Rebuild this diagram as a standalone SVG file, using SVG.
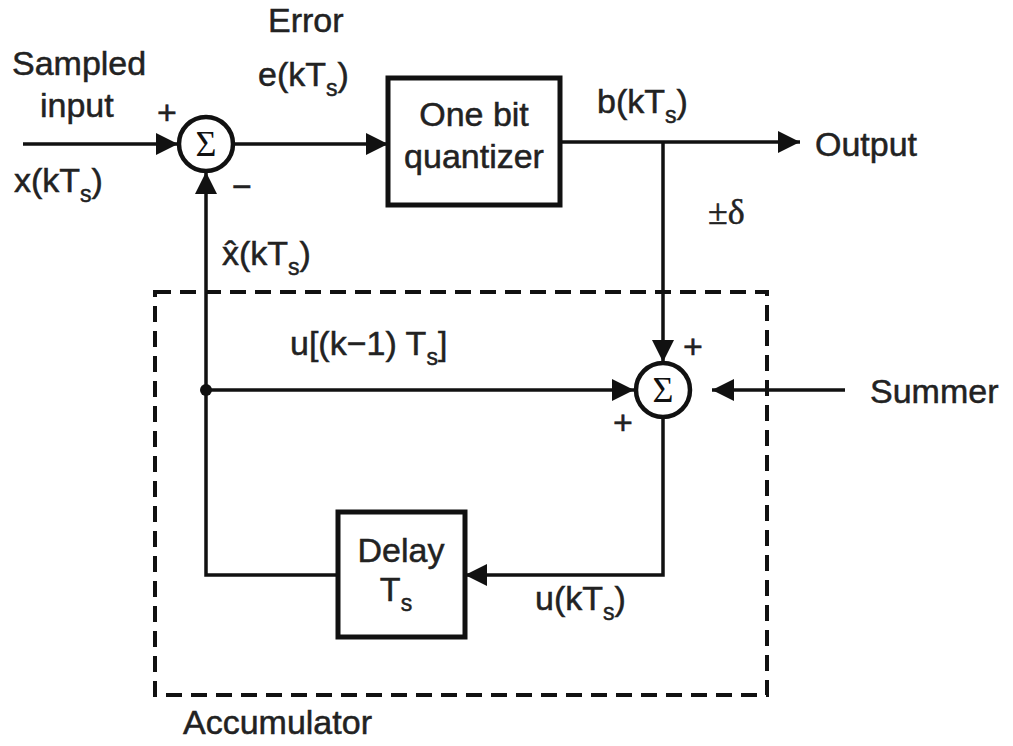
<svg xmlns="http://www.w3.org/2000/svg" width="1013" height="746" viewBox="0 0 1013 746">
<defs>
<marker id="ah" viewBox="0 0 10 10" refX="10" refY="5" markerWidth="32" markerHeight="22" markerUnits="userSpaceOnUse" orient="auto"><path d="M0,0 L10,5 L0,10 z" fill="#111"/></marker>
<style>
.ln{stroke:#111;stroke-width:3.5;fill:none}
.bx{stroke:#111;stroke-width:5;fill:#fff}
.sc{stroke:#111;stroke-width:4.5;fill:#fff}
.t{font-family:"Liberation Sans",Arial,sans-serif;font-size:34px;fill:#222;stroke:#222;stroke-width:0.5}
.sub{font-size:23px}
.sg{font-family:"Liberation Serif","Times New Roman",serif;font-size:36px;fill:#111}
.dash{stroke:#111;stroke-width:4;fill:none;stroke-dasharray:16,9}
</style>
</defs>
<rect width="1013" height="746" fill="#fff"/>
<rect class="dash" x="155" y="292" width="612" height="403"/>
<g id="connectors">
<line class="ln" x1="23" y1="144" x2="178" y2="144" marker-end="url(#ah)"/>
<line class="ln" x1="233" y1="144" x2="388" y2="144" marker-end="url(#ah)"/>
<line class="ln" x1="560" y1="142" x2="800" y2="142" marker-end="url(#ah)"/>
<line class="ln" x1="663" y1="142" x2="663" y2="362" marker-end="url(#ah)"/>
<line class="ln" x1="206" y1="390" x2="634" y2="390" marker-end="url(#ah)"/>
<line class="ln" x1="845" y1="390" x2="712" y2="390" marker-end="url(#ah)"/>
<polyline class="ln" points="663,418 663,575 465,575" marker-end="url(#ah)"/>
<polyline class="ln" points="338,575 206,575 206,172" marker-end="url(#ah)"/>
<circle cx="206" cy="390" r="6" fill="#111"/>
</g>
<g id="sum1"><circle class="sc" cx="206" cy="144" r="27"/><text class="sg" x="206" y="156" text-anchor="middle">Σ</text></g>
<g id="quantizer"><rect class="bx" x="388" y="78" width="172" height="127"/><text class="t" x="474" y="126" text-anchor="middle">One bit</text><text class="t" x="474" y="168" text-anchor="middle">quantizer</text></g>
<g id="sum2"><circle class="sc" cx="663" cy="390" r="27"/><text class="sg" x="663" y="402" text-anchor="middle">Σ</text></g>
<g id="delay"><rect class="bx" x="338" y="512" width="127" height="125"/><text class="t" x="401" y="562" text-anchor="middle">Delay</text><text class="t" x="396" y="601" text-anchor="middle">T<tspan class="sub" dy="10">s</tspan></text></g>
<g id="labels">
<text class="t" x="12" y="75">Sampled</text>
<text class="t" x="40" y="117">input</text>
<text class="t" x="157" y="124" font-size="28">+</text>
<text class="t" x="14" y="192">x(kT<tspan class="sub" dy="10">s</tspan><tspan dy="-10">)</tspan></text>
<text class="t" x="232" y="198">−</text>
<text class="t" x="222" y="265">x̂(kT<tspan class="sub" dy="10">s</tspan><tspan dy="-10">)</tspan></text>
<text class="t" x="268" y="32">Error</text>
<text class="t" x="258" y="86">e(kT<tspan class="sub" dy="10">s</tspan><tspan dy="-10">)</tspan></text>
<text class="t" x="597" y="113">b(kT<tspan class="sub" dy="10">s</tspan><tspan dy="-10">)</tspan></text>
<text class="t" x="815" y="156">Output</text>
<text class="t" x="708" y="224" style="font-family:'Liberation Serif',serif;font-size:36px">±δ</text>
<text class="t" x="683" y="358" font-size="28">+</text>
<text class="t" x="613" y="434" font-size="28">+</text>
<text class="t" x="290" y="355">u[(k−1) T<tspan class="sub" dy="10">s</tspan><tspan dy="-10">]</tspan></text>
<text class="t" x="870" y="403">Summer</text>
<text class="t" x="535" y="610">u(kT<tspan class="sub" dy="10">s</tspan><tspan dy="-10">)</tspan></text>
<text class="t" x="183" y="734">Accumulator</text>
</g>
</svg>
